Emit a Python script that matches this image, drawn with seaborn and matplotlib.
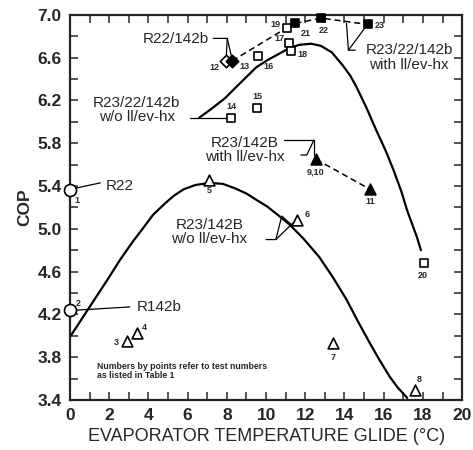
import matplotlib
matplotlib.use("Agg")
import pandas as pd
import seaborn as sns
import matplotlib.pyplot as plt
from matplotlib.ticker import MultipleLocator, FixedLocator, FormatStrFormatter

# test points (evaporator glide in degC, COP)
r22_x = [0.0]
r22_y = [5.36]
r142b_x = [0.0]
r142b_y = [4.24]

# R23/142B without ll/ev-hx (open triangles)
tri_open_id = ['3', '4', '5', '6', '7', '8']
tri_open_x = [2.9, 3.4, 7.1, 11.6, 13.4, 17.6]
tri_open_y = [3.95, 4.03, 5.46, 5.08, 3.93, 3.49]

# R23/142B with ll/ev-hx (filled triangles)
tri_fill_id = ['9,10', '11']
tri_fill_x = [12.55, 15.3]
tri_fill_y = [5.65, 5.37]

# R22/142b (diamonds, 12 open, 13 filled)
dia_id = ['12', '13']
dia_x = [7.97, 8.27]
dia_y = [6.57, 6.57]

# R23/22/142b without ll/ev-hx (open squares)
sq_open_id = ['14', '15', '16', '17', '18', '19', '20']
sq_open_x = [8.22, 9.54, 9.6, 11.17, 11.27, 11.07, 18.06]
sq_open_y = [6.04, 6.13, 6.62, 6.74, 6.66, 6.88, 4.68]

# R23/22/142b with ll/ev-hx (filled squares)
sq_fill_id = ['21', '22', '23']
sq_fill_x = [11.5, 12.8, 15.2]
sq_fill_y = [6.92, 6.97, 6.91]

# fitted curves
low_curve_x = [0.0, 1.0, 2.0, 2.55, 3.2, 3.7, 4.23, 4.8, 5.3, 5.8, 6.4, 7.14,
               7.8, 8.4, 9.0, 9.6, 10.05, 10.6, 11.2, 11.9, 12.7, 13.4, 14.1,
               14.7, 15.3, 15.8, 16.3, 16.7, 17.0, 17.2]
low_curve_y = [3.99, 4.27, 4.55, 4.71, 4.88, 5.0, 5.13, 5.23, 5.31, 5.37, 5.41,
               5.43, 5.42, 5.38, 5.33, 5.26, 5.21, 5.13, 5.04, 4.91, 4.74, 4.55,
               4.34, 4.13, 3.93, 3.77, 3.62, 3.52, 3.46, 3.42]
up_curve_x = [6.6, 7.2, 7.9, 8.5, 9.0, 9.5, 10.1, 10.7, 11.2, 11.7, 12.3, 12.8,
              13.35, 13.9, 14.3, 14.6, 15.1, 15.6, 16.1, 16.5, 16.9, 17.2, 17.5,
              17.7, 17.9]
up_curve_y = [6.04, 6.12, 6.22, 6.33, 6.42, 6.51, 6.58, 6.64, 6.69, 6.72, 6.73,
              6.71, 6.65, 6.53, 6.43, 6.33, 6.14, 5.93, 5.73, 5.55, 5.35, 5.17,
              5.02, 4.92, 4.8]

y_ticks = [3.4, 3.8, 4.2, 4.6, 5.0, 5.4, 5.8, 6.2, 6.6, 7.0]

sns.set_style("ticks")
plt.rcParams['font.family'] = ['Liberation Sans', 'DejaVu Sans']

fig = plt.figure(figsize=(4.73, 4.5), dpi=100)
ax = fig.add_axes([0.148, 0.111, 0.829, 0.856])

lw = 1.6
sns.lineplot(x=low_curve_x, y=low_curve_y, sort=False, estimator=None,
             color='black', lw=lw, ax=ax)
sns.lineplot(x=up_curve_x, y=up_curve_y, sort=False, estimator=None,
             color='black', lw=lw, ax=ax)

# dashed connecting lines
dash = dict(color='black', lw=1.1, ls=(0, (4, 2.5)))
ax.plot([dia_x[1], sq_open_x[5]], [dia_y[1], sq_open_y[5]], **dash)
ax.plot(sq_fill_x, sq_fill_y, **dash)
ax.plot(tri_fill_x, tri_fill_y, **dash)

# markers
mk = dict(edgecolor='black', linewidth=1.2, zorder=5, clip_on=False, ax=ax)
sns.scatterplot(x=r22_x + r142b_x, y=r22_y + r142b_y, marker='o', s=75,
                facecolor='white', **mk)
sns.scatterplot(x=tri_open_x, y=tri_open_y, marker='^', s=60,
                facecolor='white', **mk)
sns.scatterplot(x=tri_fill_x, y=tri_fill_y, marker='^', s=60,
                facecolor='black', **mk)
sns.scatterplot(x=[dia_x[0]], y=[dia_y[0]], marker='D', s=40,
                facecolor='white', **mk)
sns.scatterplot(x=[dia_x[1]], y=[dia_y[1]], marker='D', s=40,
                facecolor='black', **mk)
sns.scatterplot(x=sq_open_x, y=sq_open_y, marker='s', s=36,
                facecolor='white', **mk)
sns.scatterplot(x=sq_fill_x, y=sq_fill_y, marker='s', s=36,
                facecolor='black', **mk)

# test number labels
num_style = dict(fontsize=6.5, fontweight='bold', textcoords='offset points',
                 va='center')
all_ids = (['1', '2'] + tri_open_id + tri_fill_id + dia_id + sq_open_id + sq_fill_id)
all_x = r22_x + r142b_x + tri_open_x + tri_fill_x + dia_x + sq_open_x + sq_fill_x
all_y = r22_y + r142b_y + tri_open_y + tri_fill_y + dia_y + sq_open_y + sq_fill_y
offsets = {
    '1': (3, -7, 'left'), '2': (4, 5, 'left'), '3': (-6, -1, 'right'),
    '4': (4, 4, 'left'), '5': (0, -8, 'center'), '6': (5, 4, 'left'),
    '7': (0, -10, 'center'), '8': (3, 8, 'center'), '9,10': (0, -9, 'center'),
    '11': (0, -9, 'center'), '12': (-5, -5, 'right'), '13': (5, -4, 'left'),
    '14': (0, 8, 'center'), '15': (0, 8, 'center'), '16': (4, -8, 'left'),
    '17': (-3, 3, 'right'), '18': (5, -2, 'left'), '19': (-5, 2, 'right'),
    '20': (-1, -9, 'center'), '21': (4, -7, 'left'), '22': (2, -9, 'center'),
    '23': (5, -1, 'left'),
}
for lab, px, py in zip(all_ids, all_x, all_y):
    dx, dy, ha = offsets[lab]
    ax.annotate(lab, (px, py), xytext=(dx, dy), ha=ha, **num_style)

# group labels with leader lines
lead = dict(color='black', lw=0.9, clip_on=False)
tfs = 11
ax.plot([0.28, 1.55], [5.38, 5.43], **lead)
ax.text(1.8, 5.40, 'R22', fontsize=tfs, va='center', ha='left')
ax.plot([0.3, 3.05], [4.24, 4.27], **lead)
ax.text(3.4, 4.265, 'R142b', fontsize=tfs, va='center', ha='left')

ax.text(7.1, 6.77, 'R22/142b', fontsize=tfs, va='center', ha='right')
ax.plot([7.3, 8.02, 7.97], [6.78, 6.78, 6.61], **lead)
ax.plot([8.02, 8.25], [6.78, 6.6], **lead)

ax.text(3.4, 6.11, 'R23/22/142b\nw/o ll/ev-hx', fontsize=tfs, va='center',
        ha='center', linespacing=1.05)
ax.plot([6.1, 8.05], [6.04, 6.04], **lead)

ax.text(8.9, 5.735, 'R23/142B\nwith ll/ev-hx', fontsize=tfs, va='center',
        ha='center', linespacing=1.05)
ax.plot([10.9, 12.44, 12.44], [5.83, 5.83, 5.69], **lead)
ax.plot([12.44, 12.08, 11.78], [5.83, 5.69, 5.69], **lead)

ax.text(7.1, 4.97, 'R23/142B\nw/o ll/ev-hx', fontsize=tfs, va='center',
        ha='center', linespacing=1.05)
ax.plot([10.0, 10.5, 10.8, 11.35], [4.90, 4.90, 5.12, 5.03], **lead)
ax.plot([10.5, 11.4], [4.90, 5.06], **lead)

ax.text(17.3, 6.60, 'R23/22/142b\nwith ll/ev-hx', fontsize=tfs, va='center',
        ha='center', linespacing=1.05)
ax.plot([14.55, 14.2, 14.1], [6.67, 6.67, 6.92], **lead)
ax.plot([14.2, 15.05], [6.67, 6.88], **lead)

ax.text(1.4, 3.675, 'Numbers by points refer to test numbers\nas listed in Table 1',
        fontsize=6.3, fontweight='bold', va='center', ha='left', linespacing=1.0)

# axes
ax.set_xlim(0, 20)
ax.set_ylim(3.4, 7.0)
ax.xaxis.set_major_locator(MultipleLocator(2))
ax.xaxis.set_minor_locator(MultipleLocator(1))
ax.yaxis.set_major_locator(FixedLocator(y_ticks))
ax.yaxis.set_minor_locator(MultipleLocator(0.2))
ax.yaxis.set_major_formatter(FormatStrFormatter('%.1f'))
ax.tick_params(which='both', direction='in', top=True, right=True,
               width=1.1, labelsize=12.5, pad=6, length=6)
for sp in ax.spines.values():
    sp.set_linewidth(1.6)
for t in ax.get_xticklabels() + ax.get_yticklabels():
    t.set_fontweight('bold')

ax.set_xlabel('EVAPORATOR TEMPERATURE GLIDE (°C)', fontsize=13, labelpad=3)
ax.set_ylabel('COP', fontsize=12.5, fontweight='bold', labelpad=4)

fig.savefig('out.png', dpi=100)
